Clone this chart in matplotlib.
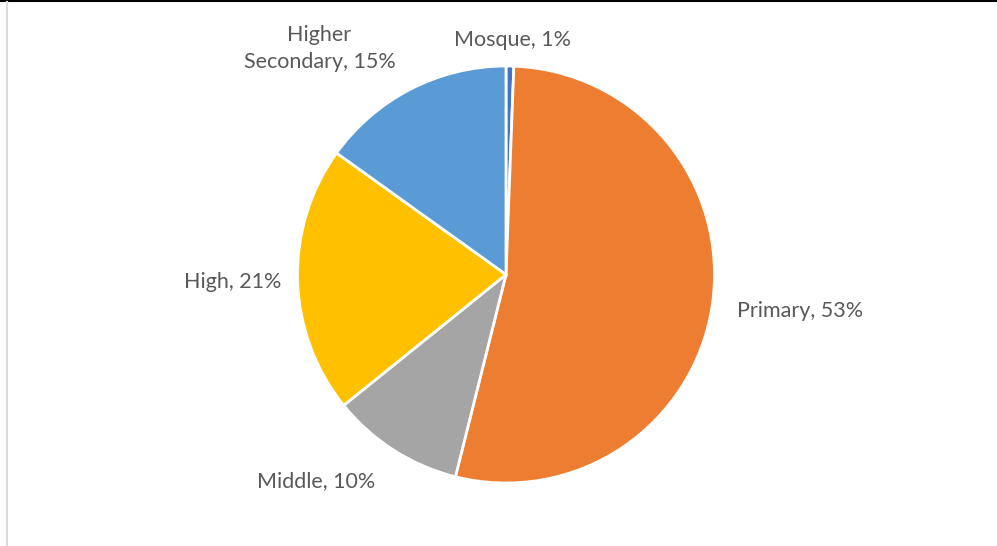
import matplotlib.pyplot as plt
from matplotlib.lines import Line2D

categories = ["Mosque", "Primary", "Middle", "High", "Higher\nSecondary"]
shares = [0.6, 53.3, 10.3, 20.7, 15.1]
colors = ["#4472C4", "#ED7D31", "#A5A5A5", "#FFC000", "#5B9BD5"]

# label anchor points (data units, pie radius = 1)
label_pos = [(0.03, 1.125), (1.41, -0.175), (-0.91, -0.99), (-1.31, -0.035), (-0.895, 1.085)]

fig = plt.figure(figsize=(9.97, 5.46), dpi=100)
ax = fig.add_axes([0, 0, 1, 1])

wedges, _ = ax.pie(shares, colors=colors, startangle=90, counterclock=False,
                   center=(0, 0), radius=1,
                   wedgeprops=dict(edgecolor="white", linewidth=2))

for name, val, (x, y) in zip(categories, shares, label_pos):
    ax.text(x, y, f"{name}, {round(val)}%", ha="center", va="center",
            fontsize=15.5, color="#595959", family="Lato", linespacing=1.45)

s = 208.5
cx, cy = 506, 274.5
ax.set_xlim(-cx / s, (997 - cx) / s)
ax.set_ylim(-(546 - cy) / s, cy / s)
ax.set_aspect("auto")
ax.axis("off")

# screenshot frame edges
fig.add_artist(Line2D([0, 1], [1 - 1 / 546, 1 - 1 / 546], transform=fig.transFigure,
                      color="black", linewidth=1.5))
fig.add_artist(Line2D([6.5 / 997, 6.5 / 997], [0, 1 - 2 / 546], transform=fig.transFigure,
                      color="#dcdcdc", linewidth=1.5))

fig.savefig("out.png", dpi=100)
